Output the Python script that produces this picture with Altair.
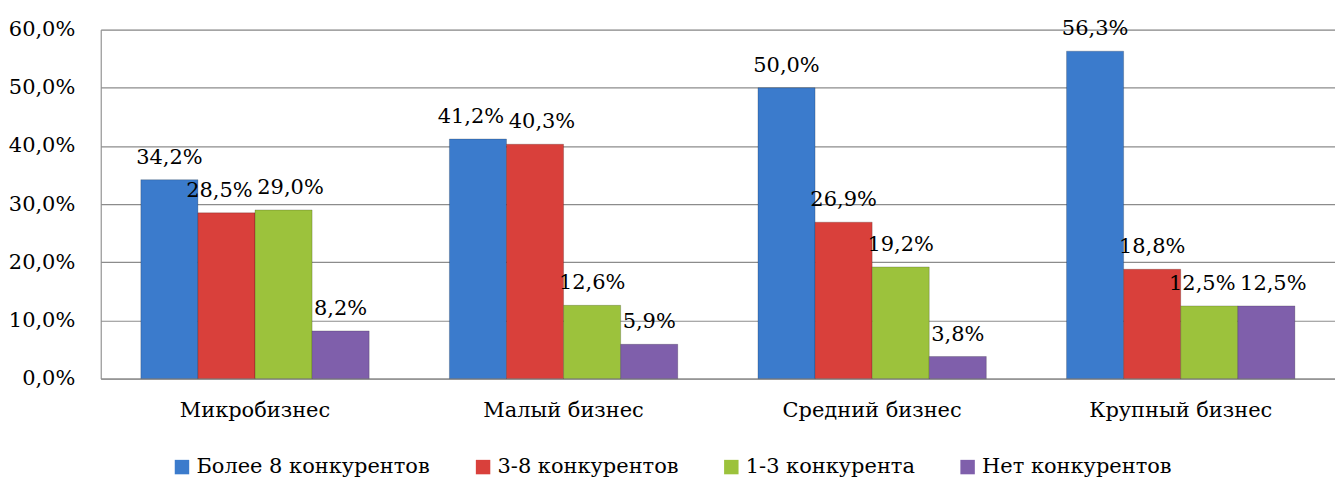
import altair as alt
import pandas as pd

categories = ["Микробизнес", "Малый бизнес", "Средний бизнес", "Крупный бизнес"]
series = ["Более 8 конкурентов", "3-8 конкурентов", "1-3 конкурента", "Нет конкурентов"]
values = {
    "Более 8 конкурентов": [34.2, 41.2, 50.0, 56.3],
    "3-8 конкурентов": [28.5, 40.3, 26.9, 18.8],
    "1-3 конкурента": [29.0, 12.6, 19.2, 12.5],
    "Нет конкурентов": [8.2, 5.9, 3.8, 12.5],
}
colors = ["#3b7bcc", "#d9403b", "#9cc23c", "#7f5fab"]
y_ticks = [0, 10, 20, 30, 40, 50, 60]

rows = []
for s in series:
    for c, v in zip(categories, values[s]):
        rows.append({"cat": c, "series": s, "v": v})
df = pd.DataFrame(rows)

# nudge neighbouring value labels apart when they would collide (similar heights)
df["shift"] = "none"
for c in categories:
    seq = [values[s][categories.index(c)] for s in series]
    for i in range(len(series) - 1):
        if abs(seq[i] - seq[i + 1]) < 3:
            df.loc[(df.cat == c) & (df.series == series[i]), "shift"] = "left"
            df.loc[(df.cat == c) & (df.series == series[i + 1]), "shift"] = "right"

FONT = "DejaVu Serif"
FS = 21

x = alt.X("cat:N", sort=categories, title=None,
          scale=alt.Scale(paddingInner=0.26, paddingOuter=0.13),
          axis=alt.Axis(labelAngle=0, ticks=False, labelPadding=21, labelFontSize=FS,
                        labelFont=FONT, labelColor="#000", domainColor="#8c8c8c",
                        grid=False, labelLimit=400))
y = alt.Y("v:Q", title=None,
          scale=alt.Scale(domain=[0, 60], nice=False),
          axis=alt.Axis(values=y_ticks, ticks=False, labelPadding=26, labelFontSize=FS,
                        labelFont=FONT, labelColor="#000", domainColor="#8c8c8c",
                        gridColor="#8c8c8c", gridWidth=1.2,
                        labelExpr="replace(format(datum.value, '.1f'), '.', ',') + '%'"))
xo = alt.XOffset("series:N", sort=series, scale=alt.Scale(paddingInner=0, paddingOuter=0))
color = alt.Color("series:N", sort=series,
                  scale=alt.Scale(domain=series, range=colors),
                  legend=alt.Legend(title=None, orient="none", direction="horizontal",
                                    legendX=71, legendY=428, columns=4, padding=0,
                                    symbolType="square", symbolSize=210,
                                    symbolStrokeWidth=0, labelFont=FONT,
                                    labelFontSize=FS, labelColor="#000",
                                    columnPadding=42, labelOffset=4, labelLimit=400))

bars = alt.Chart(df).mark_bar(stroke="#00000033", strokeWidth=1).encode(
    x=x, xOffset=xo, y=y, color=color)


def label_layer(shift, dx):
    return alt.Chart(df).transform_filter(
        alt.datum.shift == shift
    ).transform_calculate(
        lab="replace(format(datum.v, '.1f'), '.', ',') + '%'"
    ).mark_text(font=FONT, fontSize=FS, color="#000", baseline="alphabetic",
                dy=-16, dx=dx).encode(
        x=alt.X("cat:N", sort=categories), xOffset=xo, y="v:Q", text="lab:N")


chart = alt.layer(bars, label_layer("none", 0), label_layer("left", -7),
                  label_layer("right", 7)).properties(
    width=1238, height=350,
    autosize=alt.AutoSizeParams(type="none"),
    padding={"left": 93, "top": 21, "right": 0, "bottom": 102},
).configure_view(stroke=None).configure(background="white")

chart.save("out.html", embed_options={"renderer": "svg", "actions": False})
